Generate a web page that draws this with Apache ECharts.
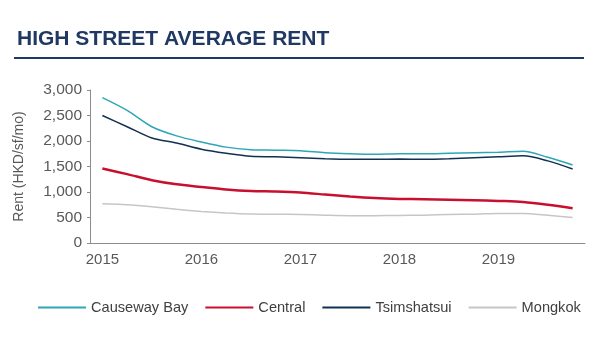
<!DOCTYPE html>
<html>
<head>
<meta charset="utf-8">
<script src="https://cdn.jsdelivr.net/npm/echarts@6/dist/echarts.min.js"></script>
<style>
html,body{margin:0;padding:0;background:#fff;}
#chart{width:600px;height:360px;}
</style>
</head>
<body>
<div id="chart"></div>
<script>
var quarters = [
  "2015Q1","2015Q2","2015Q3","2015Q4",
  "2016Q1","2016Q2","2016Q3","2016Q4",
  "2017Q1","2017Q2","2017Q3","2017Q4",
  "2018Q1","2018Q2","2018Q3","2018Q4",
  "2019Q1","2019Q2","2019Q3","2019Q4"
];
var causewayBay = [2850,2600,2280,2100,1980,1880,1830,1820,1810,1770,1750,1740,1750,1750,1760,1770,1780,1800,1680,1530];
var central     = [1460,1350,1230,1150,1100,1050,1020,1010,990,950,910,880,865,860,850,840,825,805,750,680];
var tsimshatsui = [2500,2280,2060,1960,1840,1760,1700,1690,1670,1650,1640,1640,1645,1640,1650,1670,1690,1710,1610,1450];
var mongkok     = [770,750,710,660,620,590,570,565,560,545,535,535,540,545,560,565,580,580,545,500];
var seriesNames = ["Causeway Bay","Central","Tsimshatsui","Mongkok"];
var yTicks = {min:0, max:3000, interval:500};

var chart = echarts.init(document.getElementById('chart'));
var font = "Liberation Sans, Arial, sans-serif";
function mk(name, data, color, width){
  return {name:name, type:'line', data:data, smooth:0.3, symbol:'none',
    lineStyle:{color:color, width:width}, itemStyle:{color:color}};
}
chart.setOption({
  animation:false,
  textStyle:{fontFamily:font},
  title:{text:"HIGH STREET AVERAGE RENT", left:12, top:24,
    textStyle:{fontFamily:font, fontSize:21, fontWeight:'bold', color:'#1f3864'}},
  graphic:[{type:'line', shape:{x1:14,y1:58,x2:584,y2:58}, style:{stroke:'#1f3864', lineWidth:2}}],
  legend:{left:33, top:295, itemWidth:48, itemHeight:10, itemGap:17,
    icon:'path://M0,4L48,4L48,6L0,6Z',
    textStyle:{fontFamily:font, fontSize:14.6, color:'#404040'},
    data:seriesNames},
  grid:{left:90, right:15, top:90, bottom:117},
  xAxis:{type:'category', data:quarters, boundaryGap:true,
    axisLine:{lineStyle:{color:'#8c8c8c'}},
    axisTick:{interval:0, length:3, lineStyle:{color:'#8c8c8c'}},
    axisLabel:{interval:0, margin:9, fontSize:15, color:'#595959', fontFamily:font,
      formatter:function(v){return v.slice(4)==="Q1" ? v.slice(0,4) : "";}}},
  yAxis:{type:'value', min:yTicks.min, max:yTicks.max, interval:yTicks.interval,
    name:"Rent (HKD/sf/mo)", nameLocation:'middle', nameRotate:90, nameGap:64,
    nameTextStyle:{fontSize:14, color:'#595959', fontFamily:font},
    axisLine:{show:true, lineStyle:{color:'#8c8c8c'}},
    axisTick:{show:true, length:3, lineStyle:{color:'#8c8c8c'}},
    splitLine:{show:false},
    axisLabel:{margin:8, fontSize:15.5, color:'#595959', fontFamily:font,
      formatter:function(v){return v.toLocaleString('en-US');}}},
  series:[
    mk(seriesNames[0], causewayBay, '#2fa6b6', 1.5),
    mk(seriesNames[1], central, '#c8102e', 2.5),
    mk(seriesNames[2], tsimshatsui, '#12304f', 1.5),
    mk(seriesNames[3], mongkok, '#c6c6c6', 1.5)
  ]
});
</script>
</body>
</html>
